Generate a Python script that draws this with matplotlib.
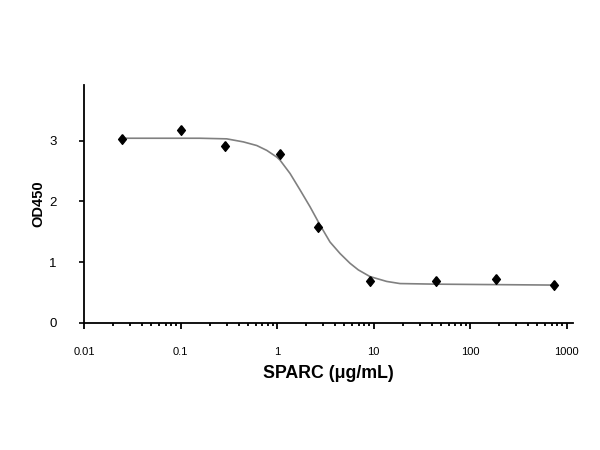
import numpy as np
import matplotlib
matplotlib.use("Agg")
import matplotlib.pyplot as plt

plt.rcParams['font.family'] = ['Liberation Sans', 'DejaVu Sans']

# measured points (SPARC concentration, ug/mL) and OD450
conc = [0.025, 0.10, 0.29, 1.07, 2.68, 9.27, 44.4, 185, 742]
od450 = [3.03, 3.17, 2.91, 2.78, 1.57, 0.69, 0.69, 0.72, 0.62]

# fitted curve
fit_conc = [0.0248, 0.159, 0.301, 0.448, 0.617, 0.783, 0.993, 1.074, 1.364,
            1.73, 2.20, 2.79, 3.54, 4.50, 5.70, 6.96, 9.20, 13.7, 18.8, 45.2, 742]
fit_od = [3.04, 3.04, 3.03, 2.98, 2.92, 2.84, 2.73, 2.68, 2.46,
          2.19, 1.91, 1.61, 1.33, 1.14, 0.98, 0.87, 0.76, 0.68, 0.645, 0.635, 0.62]

x_ticks = [0.01, 0.1, 1, 10, 100, 1000]
x_tick_labels = ['0.01', '0.1', '1', '10', '100', '1000']
y_ticks = [0, 1, 2, 3]

diamond = [(0, 1), (0.8, 0), (0, -1), (-0.8, 0), (0, 1)]

fig = plt.figure(figsize=(6, 4.5), dpi=100)
ax = fig.add_axes([0.14, 0.2829, 0.815, 0.528])

ax.plot(fit_conc, fit_od, '-', color='#808080', linewidth=1.2, zorder=2)
ax.plot(conc, od450, linestyle='none', marker=diamond, markersize=7,
        color='black', zorder=3)

ax.set_xscale('log')
ax.set_xlim(0.01, 1167)
ax.set_ylim(0, 3.916)

ax.set_xticks(x_ticks)
ax.set_xticklabels(x_tick_labels)
ax.set_yticks(y_ticks)

ax.spines['top'].set_visible(False)
ax.spines['right'].set_visible(False)
for s in ['left', 'bottom']:
    ax.spines[s].set_linewidth(1.3)
    ax.spines[s].set_color('black')

ax.tick_params(axis='x', which='major', direction='out', length=4.5, width=1.3,
               labelsize=8, pad=13)
ax.tick_params(axis='x', which='minor', direction='out', length=2.5, width=1.3)
ax.tick_params(axis='y', which='major', direction='out', length=3.5, width=1.2,
               labelsize=9.5, pad=16)

ax.set_xlabel('SPARC (μg/mL)', fontsize=12.8, fontweight='bold', labelpad=6)
ax.set_ylabel('OD450', fontsize=10.5, fontweight='bold', labelpad=3)

fig.savefig('out.png', dpi=100)
